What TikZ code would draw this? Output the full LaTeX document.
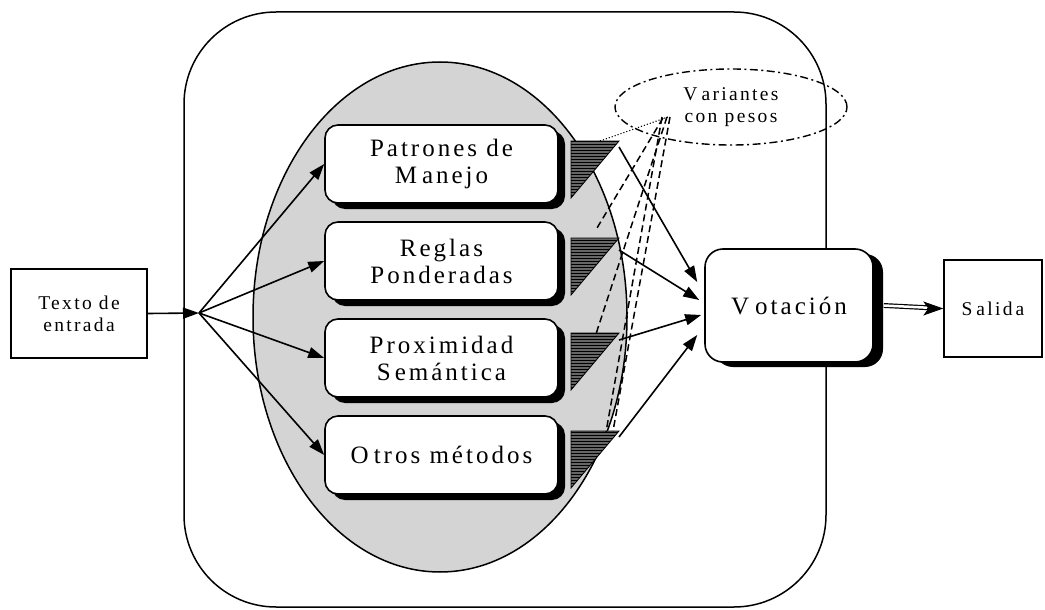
\documentclass[tikz,border=0pt]{standalone}
\usepackage{fontspec}
\setmainfont{Liberation Serif}[LetterSpace=12]
\usetikzlibrary{arrows.meta,shapes.geometric,shadows,patterns}
\begin{document}
\begin{tikzpicture}[x=1pt,y=-1pt,
  every node/.style={inner sep=0pt,align=center},
  big/.style={font=\fontsize{25}{27}\selectfont},
  small/.style={font=\fontsize{19.5}{22}\selectfont},
  mbox/.style={big,draw,line width=1.6pt,fill=white,rounded corners=13pt,minimum width=233pt,minimum height=78pt,
    drop shadow={shadow xshift=7pt,shadow yshift=-6pt,fill=black,opacity=1}},
  sqbox/.style={small,draw,line width=1.4pt,fill=white},
  arr/.style={line width=1.6pt,-{Triangle[length=16pt,width=11pt]}},
  tri/.style={draw=black,line width=0.8pt,fill=black!60,postaction={pattern=horizontal lines,pattern color=black}},
  dsh/.style={line width=1.5pt,dash pattern=on 7pt off 4pt},
]
\useasboundingbox (0,0) rectangle (1045,610);

% container and grey ellipse
\node[draw,line width=1.5pt,rounded corners=92pt,minimum width=642pt,minimum height=595pt] (outer) at (505,309.5) {};
\node[ellipse,draw,line width=1.5pt,fill=black!17,minimum width=374pt,minimum height=510pt] (ell) at (440,317) {};

% method boxes
\node[mbox] (pm) at (441.5,164) {Patrones de\\M\kern5pt anejo};
\node[mbox] (rp) at (441.5,261) {Reglas\\Ponderadas};
\node[mbox] (ps) at (441.5,358) {Proxim\kern3pt idad\\S\kern4pt em\kern3pt ántica};
\node[mbox] (om) at (441.5,455) {O\kern5pt tros m\kern3pt étodos};

% weight triangles
\foreach \i/\t in {1/141,2/238,3/333,4/431}{
  \path[tri] (571,\t) coordinate (t\i) -- ++(48,0) coordinate (r\i) -- ++(-48,57) -- cycle;
}

% voting, input, output
\node[big,draw,line width=1.6pt,fill=white,rounded corners=18pt,minimum width=168pt,minimum height=113pt,
  drop shadow={shadow xshift=10pt,shadow yshift=-5pt,fill=black,opacity=1}] (vot) at (789,305.5) {V\kern6pt otación};
\node[sqbox,minimum width=136pt,minimum height=89pt] (tex) at (79,313.5) {Texto de\\entrada};
\node[sqbox,minimum width=98pt,minimum height=97pt] (sal) at (993,308.5) {S\kern4pt alid\kern3pt a};

% weighted variants
\node[small,ellipse,draw,line width=1.4pt,dash pattern=on 8pt off 3.5pt on 2pt off 3.5pt,
  minimum width=232pt,minimum height=76pt] (var) at (731,107) {V\kern4pt ariantes\\con pesos};

\coordinate (ap) at (666,117);
\coordinate (d1) at (597,228);
\coordinate (d2) at (595,337);
\coordinate (d3) at (613,431);
\coordinate (d4) at (606,432);
\draw[dsh] ([xshift=-3pt,yshift=-1pt]ap) -- (d1);
\draw[dsh] ([xshift=1pt]ap) -- (d2);
\draw[dsh] ([xshift=4pt]ap) -- (d3);
\draw[dsh] ([xshift=-4pt]ap) -- (d4);
\draw[line width=1.1pt,dotted] ([xshift=-19pt]r1) -- ([xshift=2pt]ap);

% input fan
\coordinate (fan) at (199,313);
\draw[arr] (tex.east) -- (fan);
\foreach \b in {pm,rp,ps,om}{\draw[arr] (fan) -- (\b.west);}

% to voting
\draw[arr] ([yshift=-6pt]r1) -- ([xshift=-7pt,yshift=23.5pt]vot.west);
\draw[arr] ([yshift=-12pt]r2) -- ([xshift=-5pt,yshift=5.5pt]vot.west);
\draw[arr] ([yshift=-7pt]r3) -- ([xshift=-3pt,yshift=-9.5pt]vot.west);
\draw[arr] ([yshift=-6pt]r4) -- ([xshift=-7pt,yshift=-29.5pt]vot.west);

% output
\draw[line width=1.2pt,double,double distance=2.5pt,shorten >=14pt] ([xshift=10pt]vot.east) -- (sal.west);
\draw[line width=1pt,-{Stealth[length=20pt,width=14pt,inset=5pt]}] ([xshift=-16pt]sal.west) -- (sal.west);
\end{tikzpicture}
\end{document}
